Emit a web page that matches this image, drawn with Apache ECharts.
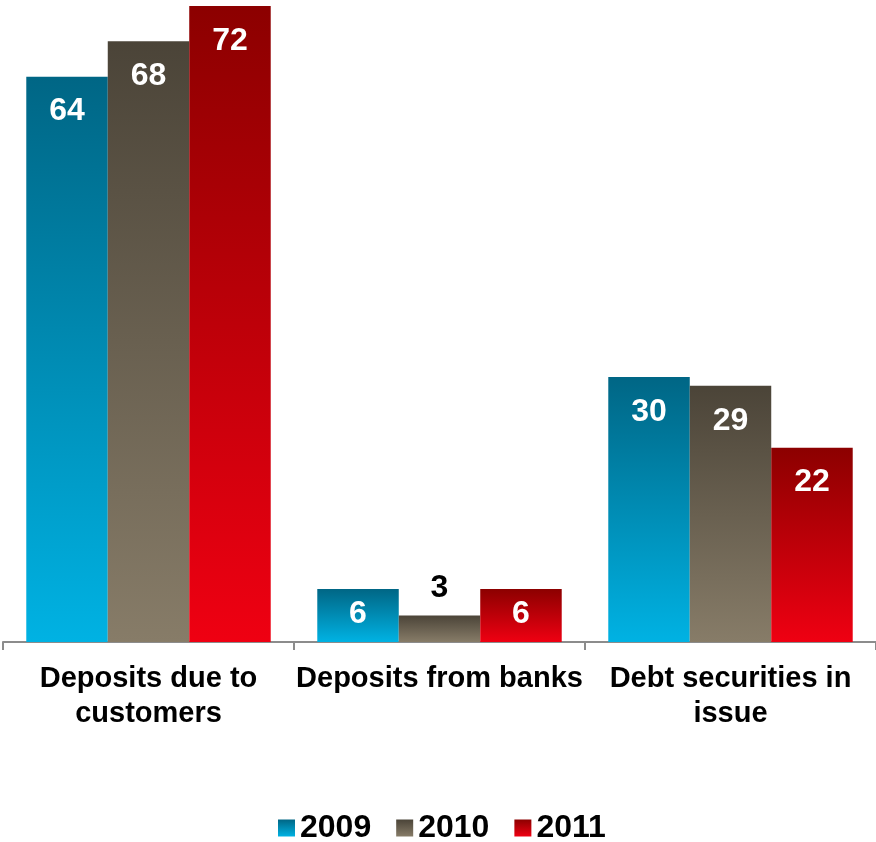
<!DOCTYPE html>
<html>
<head>
<meta charset="utf-8">
<style>
  html, body { margin: 0; padding: 0; background: #ffffff; }
  #chart { width: 876px; height: 842px; }
</style>
<script src="https://cdn.jsdelivr.net/npm/echarts@6/dist/echarts.min.js"></script>
</head>
<body>
<div id="chart"></div>
<script>
// Funding sources by year
const categories = ['Deposits due to\ncustomers', 'Deposits from banks', 'Debt securities in\nissue'];
const years = ['2009', '2010', '2011'];
const values2009 = [64, 6, 30];
const values2010 = [68, 3, 29];
const values2011 = [72, 6, 22];

// Vertical gradients: dark at the top of each bar, light at the bottom
const palette = {
  '2009': ['#006685', '#00b2e3'],
  '2010': ['#4b4438', '#877c68'],
  '2011': ['#8c0000', '#ef0012']
};

function gradient(pair) {
  return new echarts.graphic.LinearGradient(0, 0, 0, 1, [
    { offset: 0, color: pair[0] },
    { offset: 1, color: pair[1] }
  ]);
}

const FONT = '"Liberation Sans", Arial, sans-serif';

// Labels sit inside the bar top; bars too short for that get the label above
function labelled(vals) {
  return vals.map(function (v) {
    if (v < 5) {
      return {
        value: v,
        label: { position: 'top', color: '#000000', distance: 11 }
      };
    }
    if (v < 10) {
      return { value: v, label: { distance: 9 } };
    }
    return v;
  });
}

function barSeries(name, vals) {
  return {
    name: name,
    type: 'bar',
    data: labelled(vals),
    barGap: '0%',
    barCategoryGap: '16%',
    itemStyle: { color: gradient(palette[name]) },
    label: {
      show: true,
      position: 'insideTop',
      distance: 19,
      color: '#ffffff',
      fontFamily: FONT,
      fontWeight: 'bold',
      fontSize: 32
    }
  };
}

const chart = echarts.init(document.getElementById('chart'), null, { renderer: 'canvas' });
chart.setOption({
  backgroundColor: '#ffffff',
  animation: false,
  grid: { left: 3, right: 0, top: 6, bottom: 200, containLabel: false },
  legend: {
    data: years,
    top: 807,
    left: 273,
    icon: 'rect',
    itemWidth: 17,
    itemHeight: 17,
    itemGap: 25,
    textStyle: { fontFamily: FONT, fontWeight: 'bold', fontSize: 32, color: '#000000' }
  },
  xAxis: {
    type: 'category',
    data: categories,
    axisLine: { lineStyle: { color: '#8c8c8c', width: 2 } },
    axisTick: { show: true, length: 8, lineStyle: { color: '#8c8c8c', width: 2 } },
    axisLabel: {
      margin: 19,
      interval: 0,
      fontFamily: FONT,
      fontWeight: 'bold',
      fontSize: 29,
      lineHeight: 35,
      color: '#000000'
    }
  },
  yAxis: {
    type: 'value',
    min: 0,
    max: 72,
    show: false,
    splitLine: { show: false }
  },
  series: [
    barSeries('2009', values2009),
    barSeries('2010', values2010),
    barSeries('2011', values2011)
  ]
});
</script>
</body>
</html>
